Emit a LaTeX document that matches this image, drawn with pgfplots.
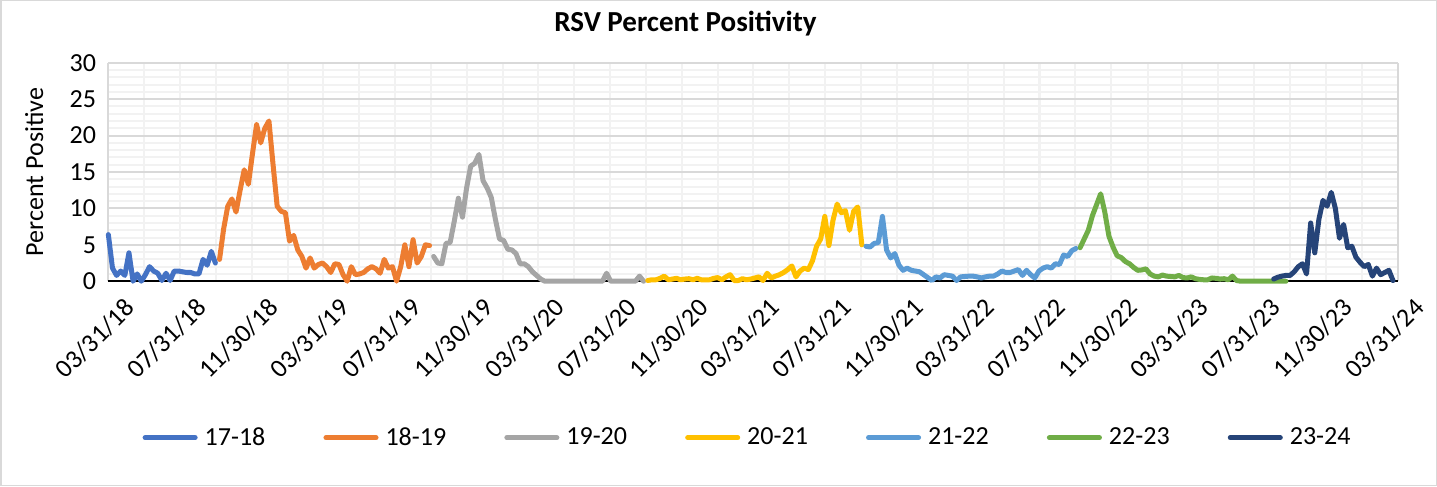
\documentclass[border=0pt]{standalone}
\usepackage{fontspec}
\setmainfont{Carlito}
\usepackage{pgfplots}
\pgfplotsset{compat=1.18}
\definecolor{sA}{HTML}{4472C4}
\definecolor{sB}{HTML}{ED7D31}
\definecolor{sC}{HTML}{A5A5A5}
\definecolor{sD}{HTML}{FFC000}
\definecolor{sE}{HTML}{5B9BD5}
\definecolor{sF}{HTML}{70AD47}
\definecolor{sG}{HTML}{264478}
\begin{document}
\begin{tikzpicture}
\begin{axis}[
  name=ax,
  scale only axis, width=644pt, height=109.15pt,
  xmin=0, xmax=313.143, ymin=0, ymax=30,
  clip=false,
  axis line style={draw=none},
  tick style={draw=none}, major tick length=0pt, minor tick length=0pt,
  /pgf/number format/assume math mode=true,
  tick label style={font=\fontsize{13}{15}\selectfont, text=black},
  ytick={0,5,10,15,20,25,30},
  minor ytick={1,2,3,4,6,7,8,9,11,12,13,14,16,17,18,19,21,22,23,24,26,27,28,29},
  ymajorgrids, yminorgrids,
  xtick={0,17.429,34.857,52.143,69.571,87.0,104.429,121.857,139.286,156.571,174.0,191.429,208.714,226.143,243.571,260.857,278.286,295.714,313.143},
  xticklabels={03/31/18,07/31/18,11/30/18,03/31/19,07/31/19,11/30/19,03/31/20,07/31/20,11/30/20,03/31/21,07/31/21,11/30/21,03/31/22,07/31/22,11/30/22,03/31/23,07/31/23,11/30/23,03/31/24},
  minor xtick={8.714,17.429,26.143,34.857,43.714,52.143,60.857,69.571,78.286,87.0,95.857,104.429,113.143,121.857,130.571,139.286,148.143,156.571,165.286,174.0,182.714,191.429,200.286,208.714,217.429,226.143,234.857,243.571,252.429,260.857,269.571,278.286,287.0,295.714,304.571},
  xmajorgrids=false, xminorgrids,
  major grid style={color=black!15, line width=1pt},
  minor grid style={color=black!5, line width=1pt},
  extra x ticks={0,313.143}, extra x tick labels={},
  extra x tick style={grid=major, major grid style={color=black!15, line width=1pt}},
  extra y ticks={0}, extra y tick labels={},
  extra y tick style={grid=major, major grid style={color=black, line width=1pt}},
  xticklabel style={rotate=45, anchor=east, inner sep=0pt, yshift=-15.6pt},
  yticklabel style={anchor=east, inner sep=0pt, xshift=-6pt},
  ylabel={Percent Positive},
  ylabel style={at={(axis description cs:-0.0575,0.5)}, anchor=center, font=\fontsize{13}{15}\selectfont},
  title={RSV Percent Positivity},
  title style={at={(axis description cs:0.4476,1)}, anchor=base, yshift=9.7pt, font=\fontsize{14.5}{17}\selectfont\bfseries},
  legend columns=7,
  legend style={at={(0.495,-0.716)}, anchor=center, draw=none, fill=none,
    font=\fontsize{13}{15}\selectfont, nodes={inner sep=0pt},
    /tikz/every odd column/.append style={column sep=3.5pt},
    /tikz/every even column/.append style={column sep=29pt}},
  legend image code/.code={\draw[#1, line cap=round] (1pt,0pt) -- (26pt,0pt);},
  every axis plot/.append style={line width=2.5pt, line join=round, line cap=round, no markers},
]
\addplot[sA] coordinates {(0,6.4)(1,1.8)(2,0.8)(3,1.4)(4,0.8)(5,3.9)(6,0)(7,1.0)(8,0)(9,0.9)(10,2.0)(11,1.4)(12,1.1)(13,0.1)(14,1.1)(15,0.1)(16,1.4)(17,1.4)(18,1.3)(19,1.2)(20,1.2)(21,1.0)(22,1.0)(23,3.0)(24,2.2)(25,4.1)(26,2.5)};
\addlegendentry{17-18}
\addplot[sB] coordinates {(27,3.0)(28,7.2)(29,10.3)(30,11.3)(31,9.5)(32,12.5)(33,15.3)(34,13.3)(35,17.5)(36,21.5)(37,19.0)(38,21.0)(39,22.0)(40,16.0)(41,10.3)(42,9.6)(43,9.4)(44,5.5)(45,6.3)(46,4.3)(47,3.4)(48,1.8)(49,3.2)(50,1.8)(51,2.3)(52,2.5)(53,2.0)(54,1.2)(55,2.4)(56,2.3)(57,0.9)(58,0)(59,2.0)(60,0.9)(61,1.0)(62,1.2)(63,1.7)(64,2.0)(65,1.7)(66,1.1)(67,3.0)(68,1.8)(69,2.0)(70,0)(71,2.0)(72,5.0)(73,2.0)(74,5.7)(75,2.5)(76,3.4)(77,5.0)(78,4.9)};
\addlegendentry{18-19}
\addplot[sC] coordinates {(79,3.4)(80,2.5)(81,2.4)(82,5.2)(83,5.3)(84,8.2)(85,11.4)(86,8.8)(87,12.8)(88,15.8)(89,16.2)(90,17.4)(91,13.8)(92,12.8)(93,11.5)(94,8.5)(95,5.8)(96,5.6)(97,4.4)(98,4.3)(99,3.8)(100,2.4)(101,2.4)(102,2.0)(103,1.3)(104,0.8)(105,0.3)(106,0)(107,0)(108,0)(109,0)(110,0)(111,0)(112,0)(113,0)(114,0)(115,0)(116,0)(117,0)(118,0)(119,0)(120,0)(121,1.1)(122,0)(123,0)(124,0)(125,0)(126,0)(127,0)(128,0)(129,0.7)(130,0)};
\addlegendentry{19-20}
\addplot[sD] coordinates {(131,0.1)(132,0.2)(133,0.2)(134,0.4)(135,0.7)(136,0.2)(137,0.3)(138,0.4)(139,0.2)(140,0.3)(141,0.35)(142,0.2)(143,0.4)(144,0.2)(145,0.2)(146,0.2)(147,0.4)(148,0.5)(149,0.2)(150,0.6)(151,0.9)(152,0.1)(153,0.1)(154,0.35)(155,0.2)(156,0.3)(157,0.45)(158,0.6)(159,0.1)(160,1.1)(161,0.45)(162,0.7)(163,0.9)(164,1.2)(165,1.6)(166,2.1)(167,0.6)(168,1.4)(169,1.8)(170,1.6)(171,2.8)(172,4.8)(173,5.8)(174,8.9)(175,4.9)(176,8.4)(177,10.6)(178,9.4)(179,9.7)(180,7.0)(181,9.6)(182,10.2)(183,5.0)};
\addlegendentry{20-21}
\addplot[sE] coordinates {(184,4.8)(185,4.7)(186,5.2)(187,5.3)(188,8.9)(189,4.3)(190,3.2)(191,3.8)(192,2.2)(193,1.5)(194,1.8)(195,1.5)(196,1.4)(197,1.3)(198,0.9)(199,0.5)(200,0.1)(201,0.6)(202,0.45)(203,0.9)(204,0.8)(205,0.7)(206,0.1)(207,0.6)(208,0.65)(209,0.7)(210,0.7)(211,0.6)(212,0.45)(213,0.6)(214,0.7)(215,0.7)(216,1.0)(217,1.4)(218,1.2)(219,1.2)(220,1.4)(221,1.6)(222,0.8)(223,1.5)(224,0.9)(225,0.45)(226,1.4)(227,1.8)(228,2.0)(229,1.8)(230,2.4)(231,2.3)(232,3.6)(233,3.4)(234,4.2)(235,4.5)};
\addlegendentry{21-22}
\addplot[sF] coordinates {(236,4.6)(237,5.8)(238,7.0)(239,9.0)(240,10.5)(241,12.0)(242,9.5)(243,6.2)(244,4.7)(245,3.5)(246,3.25)(247,2.7)(248,2.4)(249,1.9)(250,1.5)(251,1.55)(252,1.7)(253,1.0)(254,0.7)(255,0.6)(256,0.85)(257,0.7)(258,0.65)(259,0.6)(260,0.8)(261,0.5)(262,0.45)(263,0.6)(264,0.35)(265,0.25)(266,0.2)(267,0.2)(268,0.45)(269,0.4)(270,0.3)(271,0.35)(272,0.2)(273,0.7)(274,0.1)(275,0)(276,0)(277,0)(278,0)(279,0)(280,0)(281,0)(282,0)(283,0)(284,0)(285,0)(286,0)};
\addlegendentry{22-23}
\addplot[sG] coordinates {(283,0.3)(284,0.55)(285,0.7)(286,0.8)(287,0.8)(288,1.3)(289,2.0)(290,2.4)(291,1.0)(292,8.0)(293,3.9)(294,8.5)(295,11.1)(296,10.3)(297,12.2)(298,10.0)(299,5.9)(300,7.8)(301,4.6)(302,4.8)(303,3.3)(304,2.6)(305,2.0)(306,2.3)(307,0.7)(308,1.8)(309,0.9)(310,1.2)(311,1.5)(312,0.1)};
\addlegendentry{23-24}
\end{axis}
\draw[color=black!15, line width=0.75pt] ([shift={(-53.75pt,-101.9pt)}]ax.south west) rectangle ([shift={(663.25pt,140.1pt)}]ax.south west);
\end{tikzpicture}
\end{document}
